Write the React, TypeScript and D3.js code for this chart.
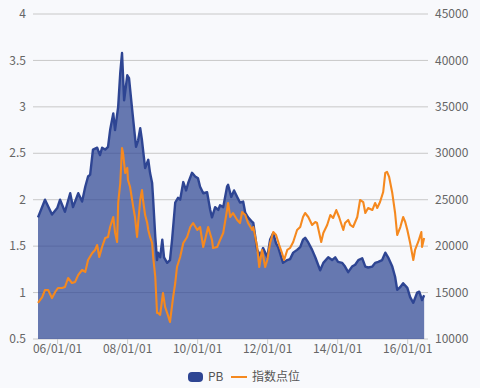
import * as d3 from "d3";

// PB series (left axis), time as decimal years
const pbYears = [
  2005.44, 2005.64, 2005.84, 2005.99, 2006.07, 2006.21, 2006.36, 2006.44, 2006.59, 2006.7,
  2006.79, 2006.87, 2006.93, 2007.01, 2007.13, 2007.21, 2007.27, 2007.36, 2007.44, 2007.5,
  2007.59, 2007.64, 2007.73, 2007.79, 2007.84, 2007.9, 2007.99, 2008.04, 2008.13, 2008.16,
  2008.24, 2008.3, 2008.36, 2008.41, 2008.44, 2008.5, 2008.59, 2008.64, 2008.7, 2008.73,
  2008.79, 2008.84, 2008.87, 2008.93, 2008.99, 2009.04, 2009.13, 2009.21, 2009.27, 2009.36,
  2009.44, 2009.5, 2009.59, 2009.67, 2009.73, 2009.84, 2009.93, 2010.01, 2010.07, 2010.16,
  2010.27, 2010.36, 2010.41, 2010.5, 2010.59, 2010.64, 2010.73, 2010.84, 2010.87, 2010.96,
  2011.04, 2011.13, 2011.21, 2011.3, 2011.36, 2011.44, 2011.56, 2011.59, 2011.7, 2011.79,
  2011.87, 2011.99, 2012.07, 2012.16, 2012.24, 2012.3, 2012.39, 2012.44, 2012.56, 2012.64,
  2012.73, 2012.84, 2012.93, 2013.01, 2013.07, 2013.16, 2013.27, 2013.36, 2013.5, 2013.59,
  2013.73, 2013.84, 2013.93, 2014.01, 2014.13, 2014.21, 2014.3, 2014.41, 2014.5, 2014.59,
  2014.7, 2014.79, 2014.87, 2014.99, 2015.07, 2015.16, 2015.27, 2015.36, 2015.44, 2015.56,
  2015.64, 2015.7, 2015.79, 2015.87, 2015.99, 2016.07, 2016.16, 2016.27, 2016.33, 2016.41,
  2016.47,
];
const pbValues = [
  1.81, 2.0, 1.84, 1.91, 2.0, 1.87, 2.07, 1.92, 2.07, 1.98,
  2.14, 2.25, 2.27, 2.54, 2.56, 2.48, 2.56, 2.54, 2.57, 2.75,
  2.93, 2.75, 3.0, 3.37, 3.58, 3.07, 3.34, 3.31, 2.97, 2.86,
  2.57, 2.64, 2.77, 2.64, 2.54, 2.34, 2.43, 2.29, 2.18, 2.0,
  1.6, 1.35, 1.43, 1.38, 1.57, 1.38, 1.32, 1.35, 1.57, 1.97,
  2.02, 2.0, 2.19, 2.1, 2.18, 2.29, 2.25, 2.23, 2.14, 2.07,
  2.08, 1.89, 1.81, 1.92, 1.89, 1.94, 1.92, 2.14, 2.16, 2.03,
  2.1, 2.03, 1.97, 1.98, 1.86, 1.81, 1.76, 1.75, 1.46, 1.4,
  1.48, 1.38, 1.57, 1.64, 1.53, 1.49, 1.38, 1.32, 1.35, 1.36,
  1.43, 1.46, 1.49, 1.57, 1.59, 1.54, 1.46, 1.38, 1.24, 1.32,
  1.38, 1.35, 1.38, 1.33, 1.32, 1.28, 1.22, 1.28, 1.3, 1.35,
  1.37, 1.28, 1.27, 1.28, 1.32, 1.33, 1.35, 1.43, 1.38, 1.28,
  1.17, 1.03, 1.06, 1.1, 1.05, 0.95, 0.89, 1.0, 1.01, 0.92,
  0.97,
];

// index points series (right axis)
const idxYears = [
  2005.44, 2005.56, 2005.64, 2005.73, 2005.84, 2005.93, 2006.01, 2006.13, 2006.21, 2006.3,
  2006.41, 2006.5, 2006.59, 2006.7, 2006.79, 2006.87, 2006.99, 2007.07, 2007.13, 2007.19,
  2007.27, 2007.36, 2007.44, 2007.5, 2007.59, 2007.64, 2007.7, 2007.73, 2007.79, 2007.84,
  2007.87, 2007.93, 2007.99, 2008.01, 2008.07, 2008.16, 2008.21, 2008.27, 2008.3, 2008.36,
  2008.41, 2008.44, 2008.5, 2008.56, 2008.59, 2008.64, 2008.7, 2008.73, 2008.79, 2008.84,
  2008.87, 2008.93, 2009.01, 2009.07, 2009.13, 2009.21, 2009.3, 2009.36, 2009.41, 2009.5,
  2009.59, 2009.7, 2009.79, 2009.87, 2009.99, 2010.07, 2010.16, 2010.21, 2010.3, 2010.41,
  2010.44, 2010.56, 2010.64, 2010.73, 2010.84, 2010.87, 2010.93, 2011.01, 2011.13, 2011.21,
  2011.27, 2011.36, 2011.44, 2011.56, 2011.59, 2011.7, 2011.76, 2011.84, 2011.93, 2011.99,
  2012.07, 2012.16, 2012.24, 2012.33, 2012.41, 2012.47, 2012.56, 2012.64, 2012.73, 2012.84,
  2012.93, 2013.01, 2013.07, 2013.16, 2013.27, 2013.36, 2013.41, 2013.53, 2013.59, 2013.7,
  2013.79, 2013.87, 2013.96, 2014.04, 2014.16, 2014.21, 2014.3, 2014.36, 2014.44, 2014.56,
  2014.64, 2014.73, 2014.79, 2014.87, 2014.99, 2015.07, 2015.13, 2015.21, 2015.3, 2015.36,
  2015.41, 2015.47, 2015.56, 2015.64, 2015.7, 2015.79, 2015.87, 2015.93, 2015.99, 2016.07,
  2016.16, 2016.21, 2016.3, 2016.39, 2016.41, 2016.47,
];
const idxValues = [
  13880, 14520, 15280, 15280, 14400, 15060, 15490, 15500, 15600, 16570,
  16030, 16150, 16900, 17430, 17220, 18510, 19260, 19590, 20120, 18830,
  19910, 20880, 20990, 22060, 23140, 21500, 20450, 24650, 26800, 30570,
  30000, 27880, 28420, 27120, 26370, 24220, 23140, 20990, 22490, 24970,
  26050, 24970, 23350, 22490, 21740, 20990, 20340, 18830, 16680, 12800,
  12800, 12600, 14960, 13450, 12800, 11830, 14500, 16030, 17750, 18830,
  20340, 20990, 22060, 22490, 21740, 22060, 19910, 20660, 22060, 20660,
  19800, 19910, 20660, 21420, 23890, 24650, 23140, 23570, 22820, 22490,
  23680, 23350, 22490, 21740, 22060, 19910, 17750, 19590, 17750, 18510,
  20340, 21520, 21200, 20120, 19260, 18510, 19590, 19800, 20450, 21740,
  22060, 23140, 23570, 23140, 22280, 22600, 22490, 20450, 21420, 22280,
  23350, 23030, 23890, 23140, 21740, 22490, 22820, 22280, 22060, 23140,
  24970, 24750, 23570, 24110, 23890, 24650, 24110, 24750, 25830, 27880,
  28000, 27450, 25720, 23570, 21200, 22060, 23140, 22600, 21740, 20340,
  18510, 19590, 20450, 21520, 19910, 20880,
];

const leftTicks = [0.5, 1, 1.5, 2, 2.5, 3, 3.5, 4];
const rightTicks = [10000, 15000, 20000, 25000, 30000, 35000, 40000, 45000];
const xTicks = [2006, 2008, 2010, 2012, 2014, 2016];
const legendNames = ["PB", "指数点位"];

const W = 480;
const H = 388;
const font = "'Noto Sans CJK SC', 'Noto Sans', sans-serif";

export default function App() {
  const x = d3.scaleLinear().domain([2005.44, 2016.58]).range([38, 428]);
  const yL = d3.scaleLinear().domain([0.5, 4]).range([339, 14]);
  const yR = d3.scaleLinear().domain([10000, 45000]).range([339, 14]);

  const pb = pbYears.map((t, i) => [t, pbValues[i]] as [number, number]);
  const idx = idxYears.map((t, i) => [t, idxValues[i]] as [number, number]);

  const area = d3
    .area<[number, number]>()
    .x((d) => x(d[0]))
    .y0(yL(0.5))
    .y1((d) => yL(d[1]));
  const pbLine = d3
    .line<[number, number]>()
    .x((d) => x(d[0]))
    .y((d) => yL(d[1]));
  const idxLine = d3
    .line<[number, number]>()
    .x((d) => x(d[0]))
    .y((d) => yR(d[1]));

  const fmt = (t: number) => String(t % 100).padStart(2, "0") + "/01/01";

  return (
    <svg
      width={W}
      height={H}
      style={{ position: "absolute", left: 0, top: 0, background: "#f8f9fc" }}
      fontFamily={font}
      fontSize={12}
    >
      {/* grid */}
      {leftTicks.map((t) => (
        <line key={t} x1={33} x2={428} y1={yL(t)} y2={yL(t)} stroke="#c8c8c8" strokeWidth={1} />
      ))}
      {xTicks.map((t) => (
        <line key={t} x1={x(t)} x2={x(t)} y1={339} y2={344} stroke="#c8c8c8" />
      ))}

      <path d={area(pb) || ""} fill="#2e4593" fillOpacity={0.72} />
      <path d={pbLine(pb) || ""} fill="none" stroke="#2e4593" strokeWidth={2.4} strokeLinejoin="round" />
      <path d={idxLine(idx) || ""} fill="none" stroke="#f5891f" strokeWidth={2.1} strokeLinejoin="round" />

      {/* axis labels */}
      {leftTicks.map((t) => (
        <text key={t} x={26} y={yL(t)} dy="0.35em" textAnchor="end" fill="#666">
          {t}
        </text>
      ))}
      {rightTicks.map((t) => (
        <text key={t} x={435} y={yR(t)} dy="0.35em" fill="#666">
          {t}
        </text>
      ))}
      {xTicks.map((t) => (
        <text key={t} x={x(t)} y={353} textAnchor="middle" fill="#666">
          {fmt(t)}
        </text>
      ))}

      {/* legend */}
      <rect x={188} y={372} width={15} height={10} rx={4} fill="#2e4593" />
      <text x={208} y={377} dy="0.35em" fill="#555">
        {legendNames[0]}
      </text>
      <line x1={231} x2={247} y1={377} y2={377} stroke="#f5891f" strokeWidth={2} />
      <text x={252} y={377} dy="0.35em" fill="#555">
        {legendNames[1]}
      </text>
    </svg>
  );
}
